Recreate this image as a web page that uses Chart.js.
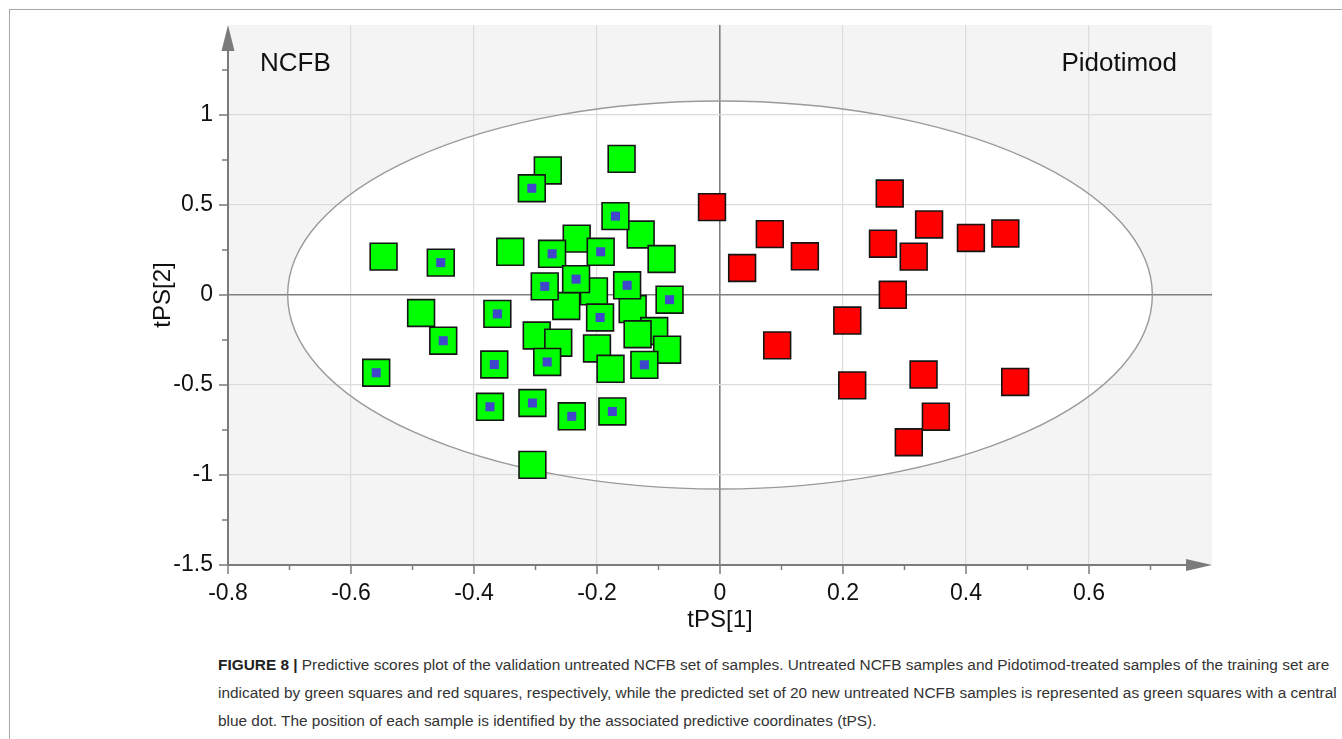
<!DOCTYPE html>
<html>
<head>
<meta charset="utf-8">
<title>Predictive scores plot</title>
<script src="https://cdn.jsdelivr.net/npm/chart.js@4.4.1/dist/chart.umd.min.js"></script>
<style>
  html, body { margin: 0; padding: 0; background: #ffffff; overflow: hidden; }
  body { width: 1342px; height: 739px; position: relative; }
  #frame {
    position: absolute; left: 9px; top: 9px; width: 2000px; height: 2000px;
    border: 1.5px solid #a8a8a8; box-sizing: border-box;
  }
  #plot { position: absolute; left: 0; top: 0; width: 1342px; height: 640px; }
  #caption {
    position: absolute; left: 218px; top: 651px; white-space: nowrap;
    font-family: 'Liberation Sans', Arial, sans-serif; font-size: 15.4px;
    line-height: 28px; color: #333333;
  }
  #caption b { color: #222222; }
</style>
</head>
<body>
<div id="frame"></div>
<div id="plot"><canvas id="scoresChart"></canvas></div>
<div id="caption"><b>FIGURE 8 |</b> Predictive scores plot of the validation untreated NCFB set of samples. Untreated NCFB samples and Pidotimod-treated samples of the training set are<br>indicated by green squares and red squares, respectively, while the predicted set of 20 new untreated NCFB samples is represented as green squares with a central<br>blue dot. The position of each sample is identified by the associated predictive coordinates (tPS).</div>

<script>
// --- datos: coordenadas predictivas tPS[1], tPS[2] ---

// NCFB sin tratar (conjunto de entrenamiento)
const ncfbTrainX = [-0.547, -0.341, -0.280, -0.160, -0.129, -0.095, -0.233, -0.205, -0.250, -0.142,
                    -0.486, -0.298, -0.263, -0.107, -0.134, -0.086, -0.200, -0.178, -0.305];
const ncfbTrainY = [0.213, 0.240, 0.692, 0.756, 0.336, 0.200, 0.313, 0.020, -0.061, -0.078,
                    -0.100, -0.225, -0.265, -0.200, -0.218, -0.304, -0.297, -0.410, -0.944];

// tratados con Pidotimod (conjunto de entrenamiento)
const pidoX = [-0.013, 0.036, 0.081, 0.138, 0.093, 0.207, 0.215, 0.276, 0.265, 0.315,
               0.281, 0.340, 0.408, 0.464, 0.331, 0.480, 0.351, 0.307];
const pidoY = [0.488, 0.150, 0.338, 0.215, -0.280, -0.142, -0.502, 0.564, 0.285, 0.213,
               0.001, 0.392, 0.317, 0.342, -0.442, -0.483, -0.676, -0.818];

// 20 NCFB nuevos (conjunto predicho)
const ncfbPredX = [-0.454, -0.306, -0.170, -0.273, -0.194, -0.234, -0.285, -0.151, -0.082, -0.362,
                   -0.195, -0.450, -0.559, -0.367, -0.374, -0.281, -0.123, -0.305, -0.241, -0.175];
const ncfbPredY = [0.180, 0.593, 0.438, 0.229, 0.240, 0.088, 0.048, 0.054, -0.026, -0.105,
                   -0.125, -0.254, -0.432, -0.386, -0.621, -0.372, -0.388, -0.600, -0.674, -0.647];

// elipse de Hotelling T2 (semiejes)
const ellipseRx = 0.703;
const ellipseRy = 1.078;

// rangos de ejes
const xMin = -0.8, xMax = 0.8, xStep = 0.2;
const yMin = -1.5, yMax = 1.5, yStep = 0.5;

const FONT = "'Liberation Sans', Arial, sans-serif";
const AXIS_GREY = '#7b7b7b';

function toPoints(xs, ys) {
  return xs.map((x, i) => ({ x: x, y: ys[i] }));
}

function fmt(v) {
  return String(Number(v.toFixed(2)));
}

function isZero(v) { return Math.abs(v) < 1e-9; }

// fondo gris, interior de la elipse blanco, ejes con flecha, marcas menores y etiquetas
const scorePlotDecor = {
  id: 'scorePlotDecor',
  beforeDraw(chart) {
    const { ctx, chartArea: a, scales: { x, y } } = chart;
    ctx.save();
    ctx.fillStyle = '#f4f4f4';
    ctx.fillRect(a.left, a.top, a.right - a.left, a.bottom - a.top);
    const cx = x.getPixelForValue(0), cy = y.getPixelForValue(0);
    ctx.beginPath();
    ctx.ellipse(cx, cy, x.getPixelForValue(ellipseRx) - cx, cy - y.getPixelForValue(ellipseRy), 0, 0, Math.PI * 2);
    ctx.fillStyle = '#ffffff';
    ctx.fill();
    ctx.restore();
  },
  beforeDatasetsDraw(chart) {
    const { ctx, scales: { x, y } } = chart;
    const cx = x.getPixelForValue(0), cy = y.getPixelForValue(0);
    ctx.save();
    ctx.beginPath();
    ctx.ellipse(cx, cy, x.getPixelForValue(ellipseRx) - cx, cy - y.getPixelForValue(ellipseRy), 0, 0, Math.PI * 2);
    ctx.strokeStyle = '#9a9a9a';
    ctx.lineWidth = 1.4;
    ctx.stroke();
    ctx.restore();
  },
  afterDraw(chart) {
    const { ctx, chartArea: a, scales: { x, y } } = chart;
    ctx.save();
    ctx.strokeStyle = AXIS_GREY;
    ctx.fillStyle = AXIS_GREY;
    ctx.lineWidth = 2;

    // líneas de eje
    ctx.beginPath();
    ctx.moveTo(a.left, a.bottom);
    ctx.lineTo(a.left, a.top + 20);
    ctx.moveTo(a.left, a.bottom);
    ctx.lineTo(a.right - 20, a.bottom);
    ctx.stroke();

    // puntas de flecha
    ctx.beginPath();
    ctx.moveTo(a.left, a.top);
    ctx.lineTo(a.left - 6.5, a.top + 26);
    ctx.lineTo(a.left + 6.5, a.top + 26);
    ctx.closePath();
    ctx.fill();
    ctx.beginPath();
    ctx.moveTo(a.right, a.bottom);
    ctx.lineTo(a.right - 26, a.bottom - 6);
    ctx.lineTo(a.right - 26, a.bottom + 6);
    ctx.closePath();
    ctx.fill();

    // marcas mayores y menores
    ctx.lineWidth = 1.5;
    ctx.beginPath();
    const xt = x.ticks.map(t => t.value).filter(v => v < xMax - 1e-9);
    xt.forEach(v => {
      const px = x.getPixelForValue(v);
      ctx.moveTo(px, a.bottom);
      ctx.lineTo(px, a.bottom + 9);
      const mpx = x.getPixelForValue(v + xStep / 2);
      ctx.moveTo(mpx, a.bottom);
      ctx.lineTo(mpx, a.bottom + 5);
    });
    const yt = y.ticks.map(t => t.value).filter(v => v < yMax - 1e-9);
    yt.forEach(v => {
      const py = y.getPixelForValue(v);
      ctx.moveTo(a.left, py);
      ctx.lineTo(a.left - 9, py);
      const mpy = y.getPixelForValue(v + yStep / 2);
      ctx.moveTo(a.left, mpy);
      ctx.lineTo(a.left - 6, mpy);
    });
    ctx.stroke();

    // etiquetas de grupo
    ctx.fillStyle = '#111111';
    ctx.font = '26px ' + FONT;
    ctx.textBaseline = 'alphabetic';
    ctx.textAlign = 'left';
    ctx.fillText('NCFB', a.left + 32, a.top + 46);
    ctx.textAlign = 'right';
    ctx.fillText('Pidotimod', a.right - 35, a.top + 46);
    ctx.restore();
  }
};

const rectSize = 18.95;   // lado ~27 px
const dotSize = 6.4;      // lado ~9 px

const ctxScores = document.getElementById('scoresChart').getContext('2d');

const scoresChart = new Chart(ctxScores, {
  type: 'scatter',
  data: {
    datasets: [
      {
        label: 'Predicted NCFB (dot)',
        data: toPoints(ncfbPredX, ncfbPredY),
        pointStyle: 'rect',
        pointRadius: dotSize,
        backgroundColor: '#4046cc',
        borderWidth: 0
      },
      {
        label: 'Predicted NCFB',
        data: toPoints(ncfbPredX, ncfbPredY),
        pointStyle: 'rect',
        pointRadius: rectSize,
        backgroundColor: '#00ff00',
        borderColor: '#151515',
        borderWidth: 1.6
      },
      {
        label: 'Pidotimod',
        data: toPoints(pidoX, pidoY),
        pointStyle: 'rect',
        pointRadius: rectSize,
        backgroundColor: '#ff0000',
        borderColor: '#151515',
        borderWidth: 1.6
      },
      {
        label: 'NCFB',
        data: toPoints(ncfbTrainX, ncfbTrainY),
        pointStyle: 'rect',
        pointRadius: rectSize,
        backgroundColor: '#00ff00',
        borderColor: '#151515',
        borderWidth: 1.6
      }
    ]
  },
  plugins: [scorePlotDecor],
  options: {
    responsive: true,
    maintainAspectRatio: false,
    animation: false,
    events: [],
    layout: { padding: { left: 148, top: 25, right: 130, bottom: 5 } },
    plugins: {
      legend: { display: false },
      tooltip: { enabled: false }
    },
    scales: {
      x: {
        type: 'linear',
        min: xMin,
        max: xMax,
        afterFit: s => { s.height = 70; s.paddingLeft = 0; s.paddingRight = 0; },
        border: { display: false },
        grid: {
          drawTicks: false,
          color: c => isZero(c.tick.value) ? '#808080' : (Math.abs(c.tick.value) > xMax - 1e-9 ? 'rgba(0,0,0,0)' : '#dcdcdc'),
          lineWidth: c => isZero(c.tick.value) ? 1.6 : 1.2
        },
        ticks: {
          stepSize: xStep,
          padding: 15,
          color: '#111111',
          font: { family: FONT, size: 23 },
          maxRotation: 0,
          callback: v => (v > xMax - 1e-9 ? '' : fmt(v))
        },
        title: {
          display: true,
          text: 'tPS[1]',
          color: '#111111',
          font: { family: FONT, size: 24 },
          padding: { top: 0, bottom: 0 }
        }
      },
      y: {
        type: 'linear',
        min: yMin,
        max: yMax,
        afterFit: s => { s.width = 80; s.paddingTop = 0; s.paddingBottom = 0; },
        border: { display: false },
        grid: {
          drawTicks: false,
          color: c => isZero(c.tick.value) ? '#808080' : (Math.abs(c.tick.value) > yMax - 1e-9 ? 'rgba(0,0,0,0)' : '#dcdcdc'),
          lineWidth: c => isZero(c.tick.value) ? 1.6 : 1.2
        },
        ticks: {
          stepSize: yStep,
          padding: 15,
          color: '#111111',
          font: { family: FONT, size: 23 },
          callback: v => (v > yMax - 1e-9 ? '' : fmt(v))
        },
        title: {
          display: true,
          text: 'tPS[2]',
          color: '#111111',
          font: { family: FONT, size: 24 },
          padding: { top: 1, bottom: 0 }
        }
      }
    }
  }
});
</script>
</body>
</html>
